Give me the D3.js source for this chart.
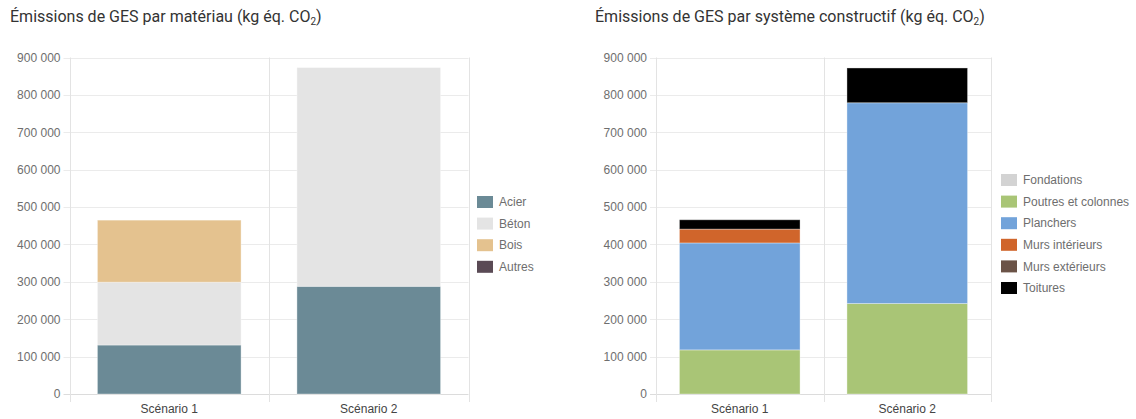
<!DOCTYPE html>
<html>
<head>
<meta charset="utf-8">
<script src="https://cdn.jsdelivr.net/npm/d3@7"></script>
<style>
  html, body { margin: 0; padding: 0; background: #fff; }
  svg { display: block; font-family: Roboto, "Noto Sans", sans-serif; }
</style>
</head>
<body>
<svg id="chart" width="1136" height="419"></svg>
<script>
// Scenarios compared in both charts
const scenarios = ["Scénario 1", "Scénario 2"];
const yTicks = [0, 100000, 200000, 300000, 400000, 500000, 600000, 700000, 800000, 900000];

// Emissions by material (kg CO2 eq.)
const materials = ["Acier", "Béton", "Bois", "Autres"];
const acier  = [131000, 288000];
const beton  = [168000, 585000];
const bois   = [166000, 0];
const autres = [0, 0];
const materialColors = ["#6b8a96", "#e4e4e4", "#e4c28f", "#5a4a55"];

// Emissions by building system (kg CO2 eq.)
const systems = ["Fondations", "Poutres et colonnes", "Planchers", "Murs intérieurs", "Murs extérieurs", "Toitures"];
const fondations = [0, 0];
const poutres    = [118000, 242000];
const planchers  = [286000, 537000];
const mursInt    = [37000, 0];
const mursExt    = [0, 0];
const toitures   = [25000, 93000];
const systemColors = ["#d3d3d3", "#a9c576", "#72a3da", "#d0652b", "#6b5347", "#000000"];

const labelFont = '"Liberation Sans", Arial, sans-serif';
const svg = d3.select("#chart");
const fmt = v => d3.format(",")(v).replace(/,/g, " ");

function drawChart(opt) {
  const g = svg.append("g");

  // Title with subscript
  const title = g.append("text")
    .attr("x", opt.titleX).attr("y", 22)
    .attr("font-size", 16).attr("fill", "#333");
  title.append("tspan").text(opt.title);
  title.append("tspan").attr("font-size", 10).attr("dy", 3).text("2");
  title.append("tspan").attr("dy", -3).text(")");

  const x = d3.scaleBand().domain(scenarios).range([opt.x0, opt.x1]).padding(0);
  const y = d3.scaleLinear().domain([0, 900000]).range([394, 57.5]);

  // Horizontal gridlines
  g.append("g").selectAll("line").data(yTicks).join("line")
    .attr("x1", opt.x0 - 6).attr("x2", opt.x1)
    .attr("y1", d => Math.round(y(d)) + 0.5).attr("y2", d => Math.round(y(d)) + 0.5)
    .attr("stroke", d => d === 0 ? "#dcdcdc" : "#ebebeb");

  // Vertical separators between categories
  const edges = [opt.x0, ...scenarios.map(s => x(s) + x.bandwidth())];
  g.append("g").selectAll("line").data(edges).join("line")
    .attr("x1", d => Math.round(d) + 0.5).attr("x2", d => Math.round(d) + 0.5)
    .attr("y1", y(900000)).attr("y2", 402)
    .attr("stroke", "#e3e3e3");

  // Y axis labels
  const yAxis = d3.axisLeft(y).tickValues(yTicks).tickFormat(fmt).tickSize(0).tickPadding(0);
  const ya = g.append("g").attr("transform", `translate(${opt.x0 - 9},0)`).call(yAxis);
  ya.select(".domain").remove();
  ya.selectAll("text").attr("font-size", 12).attr("fill", "#6e6e6e").attr("font-family", labelFont);

  // X axis labels
  const xAxis = d3.axisBottom(x).tickSize(0).tickPadding(0);
  const xa = g.append("g").attr("transform", "translate(0,404)").call(xAxis);
  xa.select(".domain").remove();
  xa.selectAll("text").attr("font-size", 12).attr("fill", "#444").attr("font-family", labelFont);

  // Stacked bars
  const rows = scenarios.map((s, i) => {
    const r = { scenario: s };
    opt.keys.forEach((k, j) => { r[k] = opt.series[j][i]; });
    return r;
  });
  const stacked = d3.stack().keys(opt.keys)(rows);
  const bw = x.bandwidth() * 0.72;
  g.append("g").selectAll("g").data(stacked).join("g")
    .attr("fill", (d, i) => opt.colors[i])
    .selectAll("rect").data(d => d.filter(p => p[1] > p[0])).join("rect")
    .attr("x", d => x(d.data.scenario) + (x.bandwidth() - bw) / 2)
    .attr("width", bw)
    .attr("y", d => y(d[1]))
    .attr("height", d => y(d[0]) - y(d[1]))
    .attr("stroke", "rgba(255,255,255,0.35)").attr("stroke-width", 1);

  // Legend
  const lg = g.append("g").selectAll("g").data(opt.keys).join("g")
    .attr("transform", (d, i) => `translate(${opt.legendX},${opt.legendY + i * 21.6})`);
  lg.append("rect").attr("x", 0).attr("y", -6).attr("width", 16).attr("height", 12)
    .attr("fill", (d, i) => opt.colors[i]);
  lg.append("text").attr("x", 22).attr("y", 0).attr("dy", "0.35em")
    .attr("font-size", 12).attr("font-family", labelFont).attr("fill", "#6e6e6e").text(d => d);
}

drawChart({
  title: "Émissions de GES par matériau (kg éq. CO",
  titleX: 10, x0: 69.5, x1: 468.5,
  keys: materials, series: [acier, beton, bois, autres], colors: materialColors,
  legendX: 477, legendY: 202
});

drawChart({
  title: "Émissions de GES par système constructif (kg éq. CO",
  titleX: 595, x0: 656, x1: 991,
  keys: systems, series: [fondations, poutres, planchers, mursInt, mursExt, toitures], colors: systemColors,
  legendX: 1001, legendY: 180
});
</script>
</body>
</html>
